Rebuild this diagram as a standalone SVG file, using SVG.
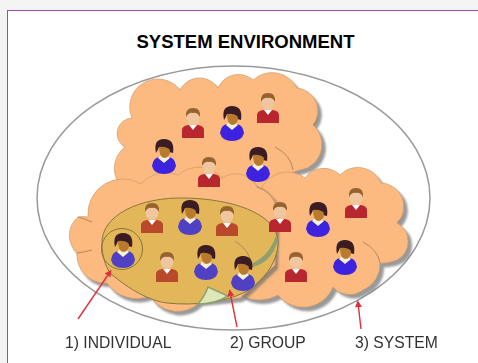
<svg xmlns="http://www.w3.org/2000/svg" width="478" height="363" viewBox="0 0 478 363">
<style>
.cloud{fill:#fdba80;stroke:#cf9c68;stroke-width:.7}
.shadow{fill:#6e6e6e;opacity:.7;filter:url(#b2)}
.inner{fill:none;stroke:#a9835a;stroke-width:.9}
.arrow{fill:none;stroke:#e0303c;stroke-width:1.4;marker-end:url(#head)}
.lbl{font-family:"Liberation Sans",Arial,sans-serif;font-size:15.7px;fill:#333;filter:url(#b1)}
.r{color:#b8262f}.b{color:#3c22e0}
.gr{color:#b9482a}.gb{color:#4f3fc4}
</style>
<defs>
<filter id="b1" x="-10%" y="-10%" width="120%" height="120%"><feGaussianBlur stdDeviation=".5"/></filter>
<filter id="b2" x="-10%" y="-10%" width="120%" height="120%"><feGaussianBlur stdDeviation="1.2"/></filter>
<marker id="head" markerWidth="5" markerHeight="5" refX="3" refY="2.500" orient="auto"><path d="M0 0L5 2.500L0 5z" fill="#e0303c"/></marker>
<path id="c1" d="M125 147A15.500 15.500 0 0 1 132 118A28 28 0 0 1 180 90A22 22 0 0 1 218 88A22 22 0 0 1 253 80A28 28 0 0 1 297 88A23 23 0 0 1 313 125A26 26 0 0 1 307 168L293 172L262 205L125 190A27 27 0 0 1 125 147Z"/>
<path id="c2" d="M262 187A29 29 0 0 1 305 178A23 23 0 0 1 340 175A25 25 0 0 1 381 183A23.500 23.500 0 0 1 397 223A21 21 0 0 1 397 260Q388 264 380 263A28 28 0 0 1 363 290A22 22 0 0 1 333 287A32 32 0 0 1 278 295A38 38 0 0 1 240 295L262 230Z"/>
<path id="c3" d="M88 217A35 35 0 0 1 141 184A33 33 0 0 1 178 175A31 31 0 0 1 222 178A24 24 0 0 1 257 187A24 24 0 0 1 277 207L275 265L240 298L200 302A32 32 0 0 1 150 296A36 36 0 0 1 107 283A28 28 0 0 1 77 253A24 24 0 0 1 78 217Q83 216 88 217Z"/>
<g id="man">
<path d="M-11 15V7Q-11 3 -5 2H5Q11 3 11 7V15Z" fill="currentColor"/>
<path d="M-4 2L0 7L4 2Z" fill="#fff"/>
<ellipse cx="0" cy="-6" rx="6.500" ry="8" fill="#efc6a0"/>
<path d="M-7 -6Q-8 -15 0 -15Q8 -15 7 -6Q4 -11 0 -10Q-4 -11 -7 -6Z" fill="#96622f"/>
</g>
<g id="woman">
<path d="M-12 10Q-11 2 -5 1H5Q11 2 12 10Q10 18 0 18Q-10 18 -12 10Z" fill="currentColor"/>
<path d="M-6 2L0 7L6 2L3 -1H-3Z" fill="#f4f1d8"/>
<path d="M-8 -3Q-11 -17 0 -17Q11 -17 9 -3L5 -4Q5 -8 -5 -9Q-6 -6 -8 -3Z" fill="#3a1e22"/>
<path d="M-5 -9Q2 -10 6 -6Q6 2 0 2Q-5 1 -5 -9Z" fill="#b97a2e"/>
</g>
</defs>
<rect width="478" height="363" fill="#f4f4f4"/>
<rect x="7.500" y="10.500" width="480" height="370" fill="#fff" stroke="#a04aa8" stroke-width="1"/>
<text x="245.500" y="48" text-anchor="middle" font-family="Liberation Sans,Arial,sans-serif" font-weight="700" font-size="18.500px" fill="#000">SYSTEM ENVIRONMENT</text>
<ellipse id="system-boundary" cx="233.500" cy="198" rx="196.500" ry="132" fill="#fff" stroke="#999" stroke-width="1.500"/>
<g filter="url(#b1)">
<use href="#c1" class="shadow" x="4" y="4"/>
<use href="#c1" class="cloud"/>
<use href="#c2" class="shadow" x="4" y="4"/>
<use href="#c2" class="cloud"/>
<use href="#c3" class="shadow" x="3" y="4"/>
<use href="#c3" class="cloud"/>
<path class="inner" d="M275 147Q291 155 293 170M257 187Q272 192 277 207M363 242Q378 250 380 263M92 250Q85 252 77 253M78 217Q85 219 92 222M397 223Q400 220 403 217M313 125Q317 122 318 118"/>
<g id="group">
<path d="M102 245C100 215 140 197 185 198C235 199 280 215 278 245C276 268 258 285 243 293C225 302 195 306 167 303C150 301 130 290 110 273C105 265 102 255 102 245Z" fill="#e3b65a" stroke="#85773f" stroke-width="1"/>
<path d="M278 240Q272 262 253 267L250 264Q268 258 276 236Z" fill="#8fa070"/>
<path d="M208 287L228 296Q215 304 198 304Q205 296 208 287Z" fill="#dfe6b8" stroke="#8fa070" stroke-width="1.500"/>
<path class="inner" d="M235 241Q250 250 253 268"/>
</g>
<g id="individual-ring"><circle cx="122" cy="249" r="20.500" fill="none" stroke="#85773f" stroke-width="1"/></g>
<g id="p1"><use href="#man" class="r" x="268" y="108"/></g>
<g id="p2"><use href="#man" class="r" x="193" y="123"/></g>
<g id="p3"><use href="#woman" class="b" x="232" y="123"/></g>
<g id="p4"><use href="#woman" class="b" x="164" y="156"/></g>
<g id="p5"><use href="#woman" class="b" x="258" y="164"/></g>
<g id="p6"><use href="#man" class="r" x="209" y="172"/></g>
<g id="p7"><use href="#man" class="gr" x="152" y="218"/></g>
<g id="p8"><use href="#woman" class="gb" x="190" y="217"/></g>
<g id="p9"><use href="#man" class="gr" x="227" y="221"/></g>
<g id="p10"><use href="#man" class="r" x="280" y="217"/></g>
<g id="p11"><use href="#woman" class="b" x="318" y="219"/></g>
<g id="p12"><use href="#man" class="r" x="356" y="203"/></g>
<g id="p13"><use href="#woman" class="gb" x="123" y="250"/></g>
<g id="p14"><use href="#man" class="gr" x="167" y="267"/></g>
<g id="p15"><use href="#woman" class="gb" x="206" y="262"/></g>
<g id="p16"><use href="#woman" class="gb" x="243" y="273"/></g>
<g id="p17"><use href="#man" class="r" x="296" y="267"/></g>
<g id="p18"><use href="#woman" class="b" x="345" y="257"/></g>
</g>
<g id="connectors">
<path class="arrow" d="M78 319L110 272"/>
<path class="arrow" d="M237 327L230 292"/>
<path class="arrow" d="M361 329L358 303"/>
</g>
<text class="lbl" x="65" y="348">1) INDIVIDUAL</text>
<text class="lbl" x="230" y="348">2) GROUP</text>
<text class="lbl" x="355" y="348">3) SYSTEM</text>
</svg>
